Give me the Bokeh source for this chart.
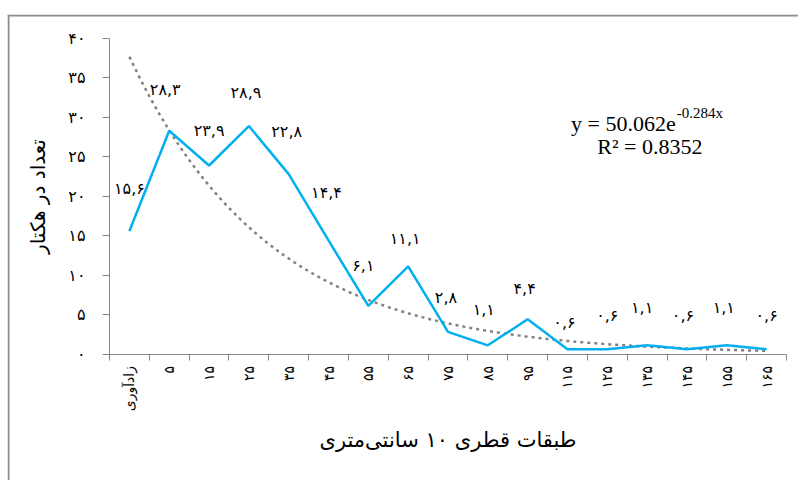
import math

from bokeh.core.properties import value
from bokeh.embed import file_html
from bokeh.models import ColumnDataSource, FixedTicker, Label, Span
from bokeh.plotting import figure
from bokeh.resources import INLINE

# Diameter classes (10 cm) and stems per hectare
class_labels = ["زادآوری", "۵", "۱۵", "۲۵", "۳۵", "۴۵", "۵۵", "۶۵", "۷۵",
                "۸۵", "۹۵", "۱۱۵", "۱۲۵", "۱۳۵", "۱۴۵", "۱۵۵", "۱۶۵"]
stems_per_ha = [15.6, 28.3, 23.9, 28.9, 22.8, 14.4, 6.1, 11.1, 2.8,
                1.1, 4.4, 0.6, 0.6, 1.1, 0.6, 1.1, 0.6]
y_ticks = [0, 5, 10, 15, 20, 25, 30, 35, 40]

# Exponential trend fitted to the class counts
trend_a = 50.062
trend_b = -0.284
trend_r2 = 0.8352

# Pixel nudges for the value labels above the line
label_dx = [0, -4, 0, -3, -2, -2, -5, -3, -2, -4, -3, -3, 0, -5, -4, -3, 0]
label_dy = [-42, -41, -35, -34, -43, -48, -40, -28, -34, -36, -31, -27, -34, -38, -34, -38, -34]

FA_DIGITS = str.maketrans("0123456789", "۰۱۲۳۴۵۶۷۸۹")


def fa(text):
    return str(text).translate(FA_DIGITS)


n = len(stems_per_ha)
positions = list(range(1, n + 1))
value_text = [fa(f"{v:.1f}".replace(".", ",")) for v in stems_per_ha]

trend_x = [1 + i * 0.05 for i in range(int((n - 1) / 0.05) + 1)]
trend_y = [trend_a * math.exp(trend_b * x) for x in trend_x]

FONT = "DejaVu Sans"
AXIS_GREY = "#868686"

# Canvas geometry: chart-area box starts at (7, 14); plot rectangle spans
# x 109..786 and y 38..354 px, holding 17 classes and 0..40 stems.
W, H = 798, 480
BOX_L, BOX_T = 7, 14
PLOT_L, PLOT_R, PLOT_T, PLOT_B = 109, 786, 38, 353.5
px_x = (PLOT_R - PLOT_L) / n
px_y = (PLOT_B - PLOT_T) / 40
x_start = 0.5 - (PLOT_L - BOX_L) / px_x
x_end = 0.5 + (W - PLOT_L) / px_x
y_start = -(H - PLOT_B) / px_y
y_end = 40 + (PLOT_T - BOX_T) / px_y

p = figure(width=W, height=H, x_range=(x_start, x_end), y_range=(y_start, y_end),
           output_backend="svg", toolbar_location=None,
           min_border_left=BOX_L, min_border_right=0, min_border_top=BOX_T, min_border_bottom=0)
p.outline_line_color = None
p.grid.visible = False
p.background_fill_color = "white"
p.border_fill_color = "white"

# chart-area border (top and left edges)
p.add_layout(Span(location=y_end - 1 / px_y, dimension="width",
                  line_color="#8c8c8c", line_width=2))
p.add_layout(Span(location=x_start + 1 / px_x, dimension="height",
                  line_color="#8c8c8c", line_width=2))

# trend line (dotted grey)
p.line(trend_x, trend_y, line_color="#808080", line_width=2.5,
       line_dash="3 4", line_cap="butt")

# observed counts
src = ColumnDataSource(dict(x=positions, y=stems_per_ha, t=value_text,
                            dx=label_dx, dy=label_dy))
p.line("x", "y", source=src, line_color="#00B0F0", line_width=2.5)
p.text("x", "y", text="t", source=src, x_offset="dx", y_offset="dy",
       text_font=value(FONT), text_font_size="16px", text_color="black",
       text_align="center", text_baseline="middle")

# x axis: tick marks between classes, labels at class centres
xa = p.xaxis[0]
xa.fixed_location = 0
xa.bounds = (0.5, n + 0.5)
xa.ticker = FixedTicker(ticks=positions,
                        minor_ticks=[x - 0.5 for x in positions] + [n + 0.5])
xa.major_label_overrides = {x: lab for x, lab in zip(positions, class_labels)}
xa.major_label_orientation = math.pi / 2
xa.major_tick_in = 0
xa.major_tick_out = 0
xa.minor_tick_in = 0
xa.minor_tick_out = 6
xa.major_label_standoff = 6
xa.axis_line_color = AXIS_GREY
xa.minor_tick_line_color = AXIS_GREY
xa.major_label_text_font = FONT
xa.major_label_text_font_size = "14px"
xa.major_label_text_color = "black"
xa.axis_label = "طبقات قطری ۱۰ سانتی‌متری"
xa.axis_label_text_font = FONT
xa.axis_label_text_font_size = "21px"
xa.axis_label_text_font_style = "normal"
xa.axis_label_text_color = "black"
xa.axis_label_standoff = 13

# y axis
ya = p.yaxis[0]
ya.fixed_location = 0.5
ya.bounds = (0, 40)
ya.ticker = FixedTicker(ticks=y_ticks)
ya.major_label_overrides = {t: fa(t) for t in y_ticks}
ya.major_tick_in = 0
ya.major_tick_out = 7
ya.minor_tick_line_color = None
ya.major_label_standoff = 17
ya.axis_line_color = AXIS_GREY
ya.major_tick_line_color = AXIS_GREY
ya.major_label_text_font = FONT
ya.major_label_text_font_size = "16px"
ya.major_label_text_color = "black"
ya.axis_label = "تعداد در هکتار"
ya.axis_label_text_font = FONT
ya.axis_label_text_font_size = "20px"
ya.axis_label_text_font_style = "normal"
ya.axis_label_text_color = "black"
ya.axis_label_standoff = 15

# trend equation
eq_font = "Liberation Serif"
eq_x = 14.72
p.add_layout(Label(x=eq_x, y=29.2, text=f"y = {trend_a}e", text_font=eq_font,
                   text_font_size="22px", text_color="black", text_align="right",
                   text_baseline="alphabetic"))
p.add_layout(Label(x=eq_x, y=30.6, x_offset=1, text=f"{trend_b}x", text_font=eq_font,
                   text_font_size="15px", text_color="black", text_align="left",
                   text_baseline="alphabetic"))
p.add_layout(Label(x=14.07, y=26.3, text=f"R² = {trend_r2}", text_font=eq_font,
                   text_font_size="22px", text_color="black", text_align="center",
                   text_baseline="alphabetic"))

open("out.html", "w").write(file_html(p, INLINE))
